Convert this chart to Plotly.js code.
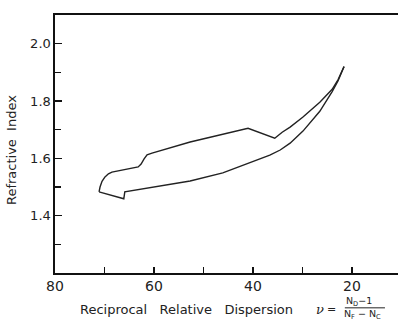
<!DOCTYPE html>
<html>
<head>
<meta charset="utf-8">
<script src="https://cdn.plot.ly/plotly-3.0.1.min.js"></script>
<style>html,body{margin:0;padding:0;background:#fff;}#chart{width:398px;height:320px;}</style>
</head>
<body>
<div id="chart"></div>
<script>
// Upper boundary of the glass region (reciprocal dispersion ν, refractive index)
const upperNu = [71.1, 70.9, 70.5, 69.9, 69.2, 68.5, 63.2, 62.6, 62.0, 61.4, 60.4, 52.7, 41.0, 35.6, 34.1, 32.5, 29.9, 26.5, 24.0, 22.8, 21.6];
const upperN  = [1.483, 1.500, 1.520, 1.535, 1.546, 1.552, 1.570, 1.580, 1.598, 1.612, 1.618, 1.657, 1.705, 1.670, 1.691, 1.709, 1.744, 1.796, 1.841, 1.875, 1.920];
// Lower boundary
const lowerNu = [71.1, 66.3, 66.1, 65.9, 52.7, 46.1, 39.2, 36.6, 34.5, 32.5, 29.9, 26.5, 24.0, 22.8, 21.6];
const lowerN  = [1.483, 1.459, 1.459, 1.483, 1.521, 1.549, 1.594, 1.611, 1.629, 1.653, 1.695, 1.764, 1.833, 1.871, 1.920];

const xTickVals = [80, 60, 40, 20];
const xTickText = ['80', '60', '40', '20'];
const xMinorVals = [70, 50, 30];
const yTickVals = [1.4, 1.6, 1.8, 2.0];
const yTickText = ['1.4', '1.6', '1.8', '2.0'];
const yMinorVals = [1.3, 1.5, 1.7, 1.9];

const lineStyle = {color: '#222', width: 1.4};
const traces = [
  {x: upperNu, y: upperN, mode: 'lines', line: lineStyle, hoverinfo: 'skip'},
  {x: lowerNu, y: lowerN, mode: 'lines', line: lineStyle, hoverinfo: 'skip'}
];

const font = 'DejaVu Sans, Liberation Sans, sans-serif';
const layout = {
  width: 398, height: 320,
  margin: {l: 55, r: 0, t: 15, b: 47},
  paper_bgcolor: '#fff', plot_bgcolor: '#fff',
  showlegend: false,
  font: {family: font, color: '#222'},
  xaxis: {
    range: [80, 10.7], showgrid: false, zeroline: false,
    showline: true, mirror: true, linecolor: '#111', linewidth: 1.6,
    tickmode: 'array', tickvals: xTickVals, ticktext: xTickText,
    ticks: 'inside', ticklen: 6, tickcolor: '#111', tickwidth: 1.2,
    tickfont: {size: 14, family: font, color: '#222'},
    minor: {tickmode: 'array', tickvals: xMinorVals, ticks: 'inside', ticklen: 6, tickcolor: '#111', tickwidth: 1.2, showgrid: false}
  },
  yaxis: {
    range: [1.2, 2.1], showgrid: false, zeroline: false,
    showline: true, mirror: false, linecolor: '#111', linewidth: 1.6,
    tickmode: 'array', tickvals: yTickVals, ticktext: yTickText,
    ticks: 'inside', ticklen: 7, tickcolor: '#111', tickwidth: 1.2,
    tickfont: {size: 13, family: font, color: '#222'},
    minor: {tickmode: 'array', tickvals: yMinorVals, ticks: 'inside', ticklen: 6, tickcolor: '#111', tickwidth: 1.2, showgrid: false}
  },
  annotations: [
    {xref: 'paper', yref: 'paper', x: -0.125, y: 0.477, text: 'Refractive&nbsp;&nbsp;Index', textangle: -90,
     showarrow: false, font: {size: 13, family: font, color: '#222'}, xanchor: 'center', yanchor: 'middle'},
    {xref: 'paper', yref: 'paper', x: 0.067, y: -0.143, text: 'Reciprocal&nbsp;&nbsp;&nbsp;Relative&nbsp;&nbsp;&nbsp;Dispersion',
     showarrow: false, font: {size: 13, family: font, color: '#222'}, xanchor: 'left', yanchor: 'middle'},
    {xref: 'paper', yref: 'paper', x: 0.772, y: -0.140, text: '<i>ν</i>',
     showarrow: false, font: {size: 13, family: 'DejaVu Serif, serif', color: '#222'}, xanchor: 'center', yanchor: 'middle'},
    {xref: 'paper', yref: 'paper', x: 0.806, y: -0.140, text: '=',
     showarrow: false, font: {size: 11, family: font, color: '#222'}, xanchor: 'center', yanchor: 'middle'},
    {xref: 'paper', yref: 'paper', x: 0.887, y: -0.110, text: 'N<sub>D</sub>−1',
     showarrow: false, font: {size: 9.5, family: font, color: '#222'}, xanchor: 'center', yanchor: 'middle'},
    {xref: 'paper', yref: 'paper', x: 0.897, y: -0.160, text: 'N<sub>F</sub> − N<sub>C</sub>',
     showarrow: false, font: {size: 9.5, family: font, color: '#222'}, xanchor: 'center', yanchor: 'middle'}
  ],
  shapes: [
    {type: 'line', xref: 'paper', yref: 'paper', x0: 0.845, x1: 0.962, y0: -0.135, y1: -0.135,
     line: {color: '#222', width: 1}}
  ]
};

Plotly.newPlot('chart', traces, layout, {staticPlot: true, displayModeBar: false});
</script>
</body>
</html>
